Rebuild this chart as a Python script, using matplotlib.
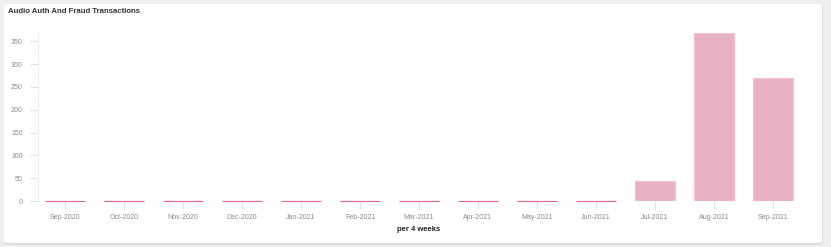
import matplotlib
matplotlib.use("Agg")
import matplotlib.pyplot as plt
from matplotlib.patches import FancyBboxPatch

categories = ["Sep-2020", "Oct-2020", "Nov-2020", "Dec-2020", "Jan-2021", "Feb-2021",
              "Mar-2021", "Apr-2021", "May-2021", "Jun-2021", "Jul-2021", "Aug-2021", "Sep-2021"]
values = [0, 0, 0, 0, 0, 0, 0, 0, 0, 0, 44, 367, 269]
y_ticks = [0, 50, 100, 150, 200, 250, 300, 350]

FONT = "Liberation Sans"
W, H = 831, 247
fig = plt.figure(figsize=(W / 100, H / 100), dpi=100)
fig.patch.set_facecolor("#eeeeee")

# card background with shadow
shadow = FancyBboxPatch((4 / W, 2 / H), 819 / W, 240 / H,
                        boxstyle="round,pad=0,rounding_size=0.008",
                        transform=fig.transFigure, facecolor="#dcdcdc", edgecolor="none", zorder=-2)
card = FancyBboxPatch((4 / W, 4 / H), 818 / W, 239 / H,
                      boxstyle="round,pad=0,rounding_size=0.008",
                      transform=fig.transFigure, facecolor="white", edgecolor="none", zorder=-1)
fig.patches.append(shadow)
fig.patches.append(card)

fig.text(8 / W, 1 - 11.5 / H, "Audio Auth And Fraud Transactions", fontsize=5.6,
         fontweight="bold", color="#333333", va="center", ha="left", family=FONT)

ax = fig.add_axes([38 / W, 1 - 201 / H, (800 - 38) / W, (201 - 33) / H])
ax.set_zorder(2)
ax.set_facecolor("none")

x = list(range(len(categories)))
bar_color = "#e9b1c4"
edge_colors = ["#e2668f" if v == 0 else "#efc3d1" for v in values]
bars = ax.bar(x, values, width=0.68, color=bar_color, edgecolor=edge_colors, linewidth=0.8, zorder=3)
for b, v in zip(bars, values):
    if v == 0:
        b.set_clip_on(False)
        b.set_y(0.25)

ax.set_xlim(-0.46, len(categories) - 0.54)
ax.set_ylim(0, 368)
ax.set_yticks(y_ticks)
ax.set_yticklabels([str(v) for v in y_ticks])
ax.set_xticks(x)
ax.set_xticklabels(categories)

for s in ["top", "right", "bottom"]:
    ax.spines[s].set_visible(False)
ax.spines["left"].set_color("#eeeeee")
ax.spines["left"].set_linewidth(0.8)
ax.axhline(0, color="#e6e6e6", linewidth=0.8, zorder=1, xmax=1.0)

ax.tick_params(axis="y", length=6, width=0.8, color="#e0e0e0", labelsize=5, labelcolor="#8a8a8a", pad=5)
ax.tick_params(axis="x", length=6, width=0.8, color="#e0e0e0", labelsize=5, labelcolor="#8a8a8a", pad=3)
for lbl in ax.get_xticklabels() + ax.get_yticklabels():
    lbl.set_family(FONT)

ax.set_xlabel("per 4 weeks", fontsize=5.5, fontweight="bold", color="#222222", labelpad=4,
              family=FONT)

fig.savefig("out.png", dpi=100, facecolor=fig.get_facecolor())
